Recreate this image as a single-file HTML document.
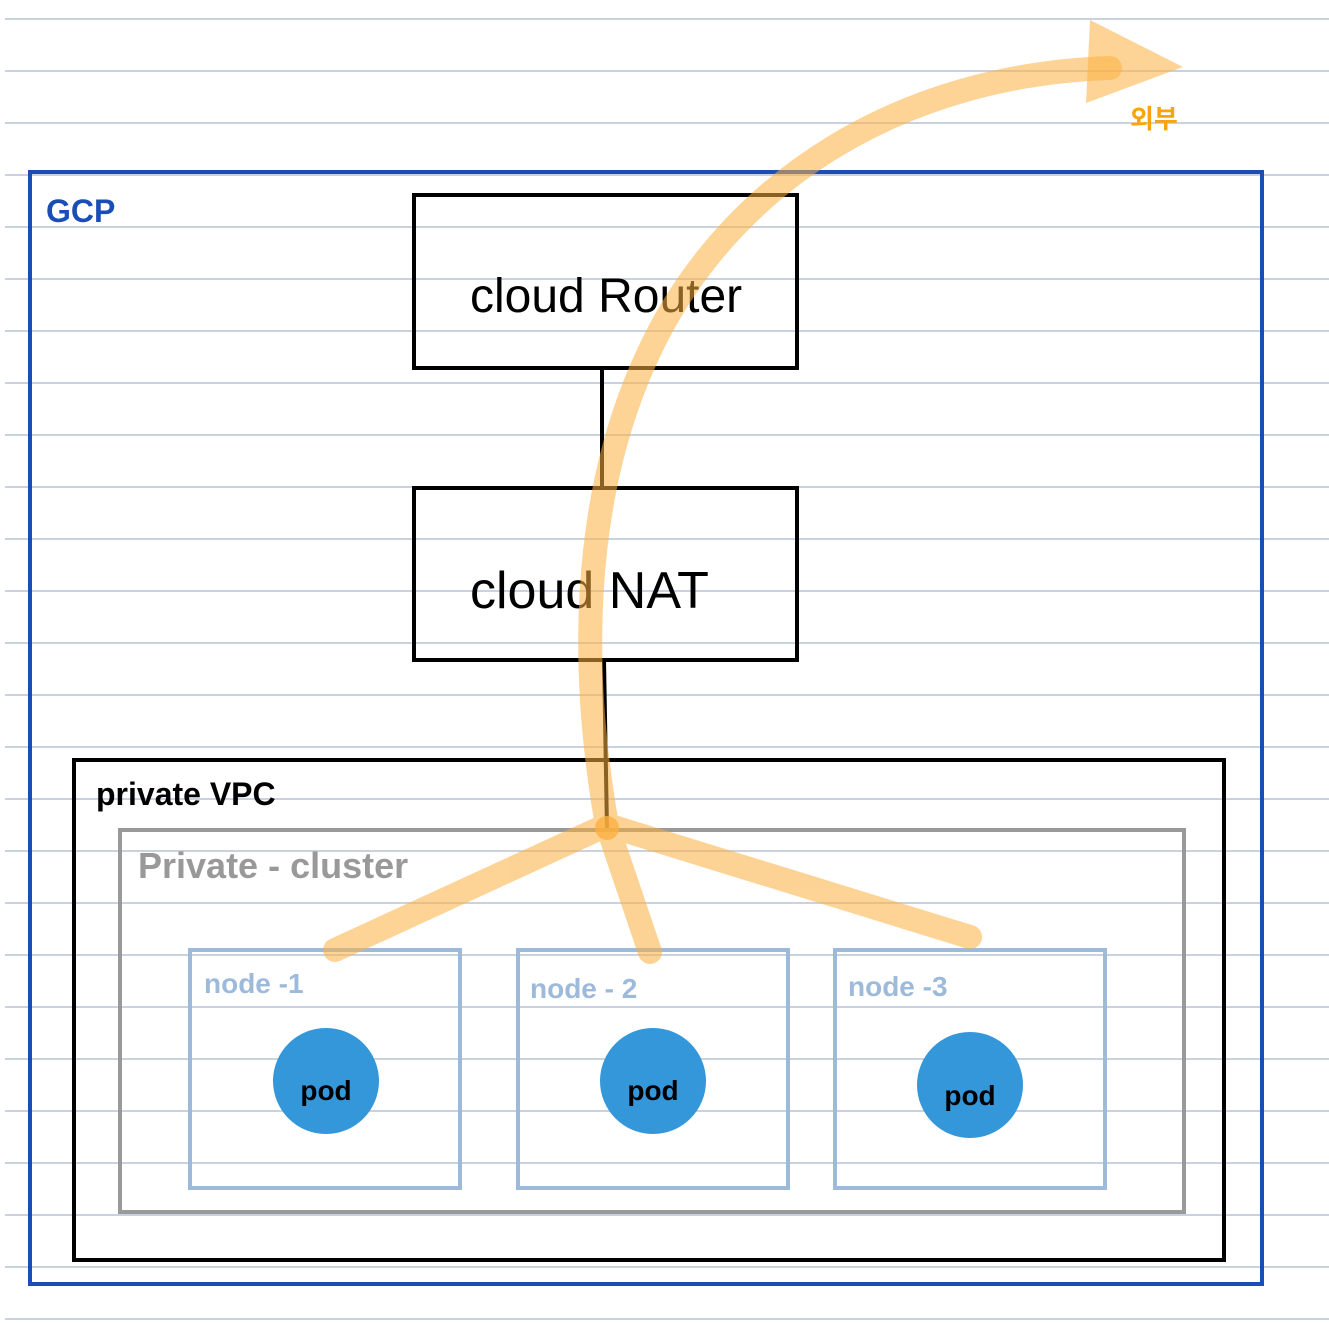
<!DOCTYPE html>
<html><head><meta charset="utf-8"><style>
html,body{margin:0;padding:0;background:#fff;}
svg{display:block;}
text{font-family:"Liberation Sans","Noto Sans CJK KR",sans-serif;}
</style></head><body>
<svg width="1329" height="1323" viewBox="0 0 1329 1323" xmlns="http://www.w3.org/2000/svg">
<g stroke="#b8c4d6" stroke-width="1.5">
<line x1="5" y1="19" x2="1329" y2="19"/><line x1="5" y1="71" x2="1329" y2="71"/><line x1="5" y1="123" x2="1329" y2="123"/><line x1="5" y1="175" x2="1329" y2="175"/><line x1="5" y1="227" x2="1329" y2="227"/><line x1="5" y1="279" x2="1329" y2="279"/><line x1="5" y1="331" x2="1329" y2="331"/><line x1="5" y1="383" x2="1329" y2="383"/><line x1="5" y1="435" x2="1329" y2="435"/><line x1="5" y1="487" x2="1329" y2="487"/><line x1="5" y1="539" x2="1329" y2="539"/><line x1="5" y1="591" x2="1329" y2="591"/><line x1="5" y1="643" x2="1329" y2="643"/><line x1="5" y1="695" x2="1329" y2="695"/><line x1="5" y1="747" x2="1329" y2="747"/><line x1="5" y1="799" x2="1329" y2="799"/><line x1="5" y1="851" x2="1329" y2="851"/><line x1="5" y1="903" x2="1329" y2="903"/><line x1="5" y1="955" x2="1329" y2="955"/><line x1="5" y1="1007" x2="1329" y2="1007"/><line x1="5" y1="1059" x2="1329" y2="1059"/><line x1="5" y1="1111" x2="1329" y2="1111"/><line x1="5" y1="1163" x2="1329" y2="1163"/><line x1="5" y1="1215" x2="1329" y2="1215"/><line x1="5" y1="1267" x2="1329" y2="1267"/><line x1="5" y1="1319" x2="1329" y2="1319"/>
</g>
<rect x="30" y="172" width="1232" height="1112" fill="none" stroke="#1a4db5" stroke-width="4"/>
<text x="46" y="222" font-size="32" font-weight="bold" fill="#1a4db5">GCP</text>
<rect x="414" y="195" width="383" height="173" fill="none" stroke="#000" stroke-width="4"/>
<text x="470" y="312" font-size="48" fill="#000">cloud Router</text>
<rect x="414" y="488" width="383" height="172" fill="none" stroke="#000" stroke-width="4"/>
<text x="470" y="608" font-size="52" fill="#000">cloud NAT</text>
<line x1="602" y1="368" x2="602" y2="488" stroke="#000" stroke-width="4"/>
<line x1="604" y1="660" x2="607" y2="830" stroke="#000" stroke-width="4"/>
<rect x="74" y="760" width="1150" height="500" fill="none" stroke="#000" stroke-width="4"/>
<text x="96" y="805" font-size="32" font-weight="bold" fill="#000">private   VPC</text>
<rect x="120" y="830" width="1064" height="382" fill="none" stroke="#999" stroke-width="4"/>
<text x="138" y="878" font-size="36" font-weight="bold" fill="#999">Private - cluster</text>
<g fill="none" stroke="#9dbadb" stroke-width="4">
<rect x="190" y="950" width="270" height="238"/>
<rect x="518" y="950" width="270" height="238"/>
<rect x="835" y="950" width="270" height="238"/>
</g>
<g font-size="28" font-weight="bold" fill="#9dbadb">
<text x="204" y="993">node -1</text>
<text x="530" y="998">node - 2</text>
<text x="848" y="996">node -3</text>
</g>
<g fill="#3497d9">
<circle cx="326" cy="1081" r="53"/><circle cx="653" cy="1081" r="53"/><circle cx="970" cy="1085" r="53"/>
</g>
<g font-size="28" font-weight="bold" fill="#000" text-anchor="middle">
<text x="326" y="1100">pod</text><text x="653" y="1100">pod</text><text x="970" y="1105">pod</text>
</g>
<g opacity="0.55" fill="none" stroke="#fbb040" stroke-width="24" stroke-linecap="round">
<path d="M607 825 C 585 700, 570 500, 660 330 C 740 180, 900 75, 1110 68"/>
<path d="M607 825 L335 950"/>
<path d="M607 825 L650 952"/>
<path d="M607 825 L970 937"/>
</g>
<polygon points="1090,20 1183,67 1086,103" fill="#fbb040" opacity="0.55"/>
<circle cx="607" cy="828" r="12" fill="#fbb040" opacity="0.8"/>
<text x="1130" y="128" font-size="26" font-weight="bold" fill="#f9a30f" font-family="'Liberation Sans','Noto Sans CJK KR',sans-serif">외부</text>
</svg>
</body></html>
